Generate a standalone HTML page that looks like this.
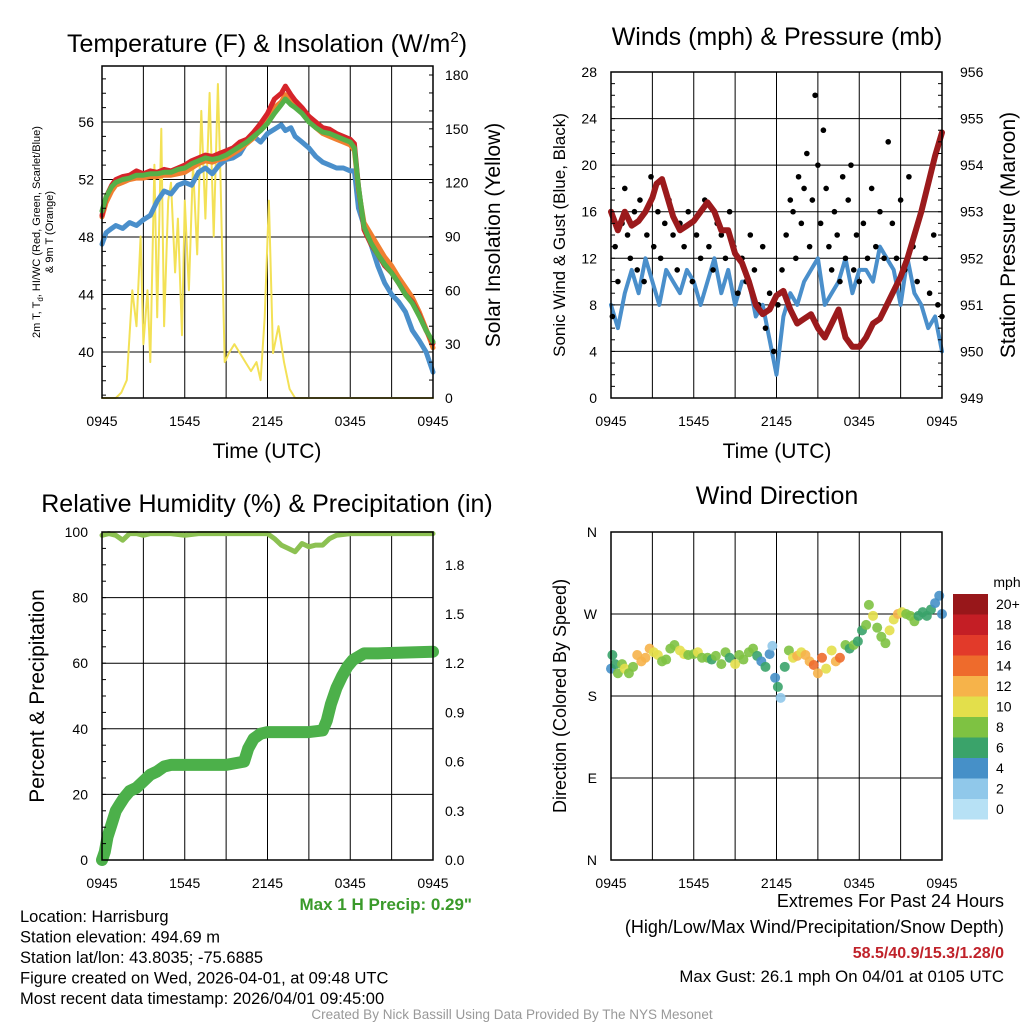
<!DOCTYPE html>
<html><head><meta charset="utf-8"><style>
body{margin:0;background:#fff;width:1024px;height:1024px;overflow:hidden;font-family:"Liberation Sans",sans-serif}
svg text{font-family:"Liberation Sans",sans-serif}
</style></head><body>
<svg id="s" width="1024" height="1024" viewBox="0 0 1024 1024" xmlns="http://www.w3.org/2000/svg"></svg>
<script>
// ---------- DATA ----------
const xTickLabels=["0945","1545","2145","0345","0945"];
const tT=[0,0.3,0.7,1,1.5,2,2.5,3,3.5,4,4.5,5,5.5,6,6.5,7,7.5,8,8.5,9,9.5,10,10.5,11,11.5,12,12.5,13,13.3,13.7,14,14.5,15,15.5,16,16.5,17,17.5,18,18.3,18.6,19,19.5,20,20.5,21,21.5,22,22.5,23,23.5,24];
const tempRed=[49.5,50.8,51.6,52,52.2,52.3,52.6,52.4,52.6,52.5,52.7,52.6,52.8,53,53.3,53.5,53.7,53.6,53.8,54,54.2,54.6,54.8,55.3,55.9,56.6,57.6,58.0,58.5,57.9,57.5,57.0,56.4,56.0,55.6,55.5,55.2,55.0,54.8,54.5,51.5,48.5,47.5,46.8,46,45.5,44.8,44,43.5,42.6,41.5,40.6];
const tempGreen=[49.8,50.8,51.5,51.8,52.0,52.1,52.3,52.3,52.4,52.4,52.5,52.5,52.7,52.8,53.1,53.3,53.5,53.4,53.5,53.7,54.0,54.3,54.6,55.0,55.4,55.9,56.6,57.2,57.6,57.2,57.0,56.6,56.0,55.6,55.3,55.2,55.0,54.8,54.6,54.2,51.5,48.7,47.6,46.8,46.1,45.5,44.8,44.0,43.4,42.5,41.5,40.7];
const tempOrange=[49.4,50.4,51.2,51.6,51.8,52.0,52.1,52.1,52.2,52.2,52.3,52.3,52.4,52.5,52.8,53.1,53.3,53.2,53.4,53.5,53.8,54.1,54.5,54.9,55.5,56.1,57.0,57.4,57.9,57.6,57.2,56.8,56.2,55.6,55.2,55.0,54.8,54.6,54.4,54.0,51.3,49.0,48.2,47.4,46.6,46.0,45.2,44.5,43.8,42.8,41.6,40.3];
const tempBlue=[47.5,48.3,48.6,48.8,48.6,49.0,48.8,49.2,49.5,50.5,51.2,51.0,51.6,51.8,51.6,52.5,52.8,52.4,53.0,53.4,53.5,53.8,54.6,55.0,54.6,55.2,55.5,55.8,55.4,55.6,55.0,54.6,54.2,53.6,53.2,53.0,52.8,52.8,52.6,52.6,50,48.8,47.5,46,44.8,44.0,43.5,42.8,41.5,40.8,40.0,38.6];
const tS=[0,0.5,1,1.4,1.8,2.2,2.5,2.8,3,3.3,3.5,3.8,4.0,4.3,4.5,4.8,5.0,5.3,5.5,5.8,6.0,6.3,6.6,6.9,7.2,7.5,7.8,8.1,8.4,8.6,8.9,9.2,9.6,10,10.4,10.8,11.2,11.5,11.8,12.1,12.4,12.8,13.2,13.6,14,16,24];
const solar=[0,0,0,3,10,60,40,90,30,60,20,130,45,150,40,110,120,70,100,35,110,60,130,80,160,100,170,90,175,120,20,25,30,25,20,15,20,10,45,110,25,40,20,5,0,0,0];
const tW=[0,0.5,1,1.5,2,2.5,3,3.5,4,4.5,5,5.5,6,6.5,7,7.5,8,8.5,9,9.5,10,10.5,11,11.5,12,12.5,13,13.5,14,14.5,15,15.5,16,16.5,17,17.5,18,18.5,19,19.5,20,20.5,21,21.5,22,22.5,23,23.5,24];
const sonic=[8,6,9,11,9,12,10,8,11,10,9,11,10,8,10,12,9,11,8,10,10,7,8,5,2,7,9,8,10,11,12,8,9,10,12,9,11,11,10,13,12,11,8,12,9,8,6,7,4];
const tP=[0,0.5,1,1.5,2,2.5,3,3.3,3.7,4,4.5,5,5.5,6,6.5,7,7.5,8,8.5,9,9.5,10,10.5,11,11.5,12,12.5,13,13.5,14,14.5,15,15.5,16,16.5,17,17.5,18,18.5,19,19.5,20,20.5,21,21.5,22,22.5,23,23.5,24];
const pressure=[953.0,952.6,953.0,952.7,952.8,953.0,953.3,953.6,953.7,953.4,952.9,952.6,952.7,952.8,953.0,953.2,953.0,952.6,952.6,952.1,951.9,951.5,951.0,950.8,950.9,951.2,951.3,950.9,950.6,950.7,950.8,950.5,950.3,950.6,950.9,950.3,950.1,950.1,950.3,950.6,950.7,951.0,951.3,951.6,952.0,952.5,953.0,953.6,954.2,954.7];
const tG=[0.1,0.3,0.5,0.8,1.0,1.2,1.4,1.7,1.9,2.1,2.4,2.6,2.9,3.1,3.4,3.6,3.9,4.2,4.5,4.8,5.0,5.3,5.6,5.9,6.2,6.5,6.8,7.1,7.4,7.7,8.0,8.3,8.6,8.9,9.2,9.5,9.8,10.1,10.4,10.7,11.0,11.2,11.5,11.8,12.1,12.4,12.7,13.0,13.2,13.4,13.6,13.8,14.0,14.2,14.4,14.6,14.8,15.0,15.2,15.4,15.6,15.8,16.0,16.2,16.4,16.6,16.8,17.0,17.2,17.4,17.6,17.8,18.0,18.3,18.6,18.9,19.2,19.5,19.8,20.1,20.4,20.7,21.0,21.3,21.6,21.9,22.2,22.5,22.8,23.1,23.4,23.7,24];
const gust=[7,13,10,15,18,14,12,16,11,17,10,14,19,13,16,12,15,17,14,11,15,13,16,10,14,12,17,13,11,15,14,12,16,13,9,12,10,14,11,8,13,6,9,4,8,11,14,17,16,12,19,15,18,21,13,17,26,20,15,23,18,13,11,16,14,10,19,12,17,20,11,14,10,15,12,18,13,16,12,22,15,12,17,11,19,13,10,16,12,9,14,8,7];
const tR=[0,0.5,1,1.5,2,2.5,3,3.5,4,5,6,7,8,9,10,11,12,12.5,13,13.5,14,14.5,15,15.5,16,16.5,17,18,19,20,21,22,23,24];
const rh=[99,99.5,99,97.5,99.5,99.5,99,99.5,99.5,99.5,99,99.5,99.5,99.5,99.5,99.5,99.5,98,96,95,94,96.5,95.5,96,96,98,99,99.5,99.5,99.5,99.5,99.5,99.5,99.5];
const tPr=[0,0.2,0.4,0.7,1,1.3,1.6,2,2.5,3,3.5,4,4.5,5,6,9,10.3,10.6,11,11.5,12,13,15,16,16.3,16.6,17,17.4,17.8,18.2,19,20,24];
const precip=[0,0.05,0.14,0.22,0.30,0.34,0.38,0.42,0.44,0.48,0.52,0.54,0.57,0.58,0.58,0.58,0.60,0.68,0.74,0.77,0.78,0.78,0.78,0.79,0.85,0.95,1.05,1.12,1.18,1.22,1.26,1.26,1.27];
const tD=[0,0.1,0.3,0.5,0.8,1.0,1.3,1.6,1.9,2.2,2.5,2.8,3.1,3.4,3.7,4.0,4.3,4.6,5.0,5.3,5.6,6.0,6.3,6.6,7.0,7.3,7.6,8.0,8.3,8.6,9.0,9.3,9.6,10.0,10.3,10.6,10.9,11.2,11.5,11.7,11.9,12.1,12.3,12.6,12.9,13.2,13.5,13.8,14.1,14.4,14.7,15.0,15.3,15.6,16.0,16.3,16.6,17.0,17.3,17.6,17.9,18.2,18.5,18.7,19.0,19.3,19.6,19.9,20.2,20.5,20.8,21.1,21.4,21.7,22.0,22.3,22.6,22.9,23.2,23.5,23.8,24];
const dirs=[210,225,215,205,215,210,205,212,225,218,222,232,228,225,218,220,232,236,230,226,225,226,228,222,222,220,224,215,228,222,215,225,220,228,232,224,218,212,226,235,200,190,178,212,230,222,224,228,225,218,214,205,222,210,230,218,222,236,232,236,240,252,258,280,268,255,245,238,252,264,270,272,270,268,262,268,272,268,275,282,290,270];
const spd=[4,6,6,8,8,10,9,8,12,12,13,12,10,11,8,9,8,8,10,10,8,9,11,8,9,7,8,8,9,6,10,9,8,9,8,6,5,7,4,3,5,7,3,6,9,10,12,11,12,13,14,12,14,10,11,13,14,8,7,8,7,7,8,9,10,8,8,8,10,10,12,11,9,8,8,7,6,7,7,4,4,4];
const binColors=["#b7e1f5","#90c8ea","#4690c8","#3aa36a","#7ec242","#e3df4b","#f6b34a","#ee6b2c","#e23a2a","#c41e25","#98171a"];
const binLabels=["0","2","4","6","8","10","12","14","16","18","20+"];

// ---------- DRAW ----------
const S=document.getElementById('s');const NS="http://www.w3.org/2000/svg";
function el(tag,attrs,parent){const e=document.createElementNS(NS,tag);for(const k in attrs)e.setAttribute(k,attrs[k]);(parent||S).appendChild(e);return e;}
function txt(x,y,s,size,anchor,extra){const e=el('text',Object.assign({x:x,y:y,'font-size':size,'text-anchor':anchor||'middle',fill:'#000'},extra||{}));e.textContent=s;return e;}
function lin(d0,d1,r0,r1){return v=>r0+(v-d0)/(d1-d0)*(r1-r0);}
function poly(xs,ys,fx,fy,color,w,name,g){const p=xs.map((t,i)=>fx(t).toFixed(1)+','+fy(ys[i]).toFixed(1)).join(' ');const e=el('polyline',{points:p,fill:'none',stroke:color,'stroke-width':w,'stroke-linejoin':'round','stroke-linecap':'round'},g);return e;}
function frame(x0,y0,x1,y1,ylines,fy,name,labY){
  const g=el('g',{});
  const fx=lin(0,24,x0,x1);
  for(let h=3;h<24;h+=3)el('line',{x1:fx(h),x2:fx(h),y1:y0,y2:y1,stroke:'#000','stroke-width':1},g);
  ylines.forEach(v=>el('line',{x1:x0,x2:x1,y1:fy(v),y2:fy(v),stroke:'#000','stroke-width':1},g));
  xTickLabels.forEach((l,i)=>{const t=txt(fx(i*6),labY,l,14,'middle',{});});
  return {g,fx};
}
function box(x0,y0,x1,y1){el('rect',{x:x0,y:y0,width:x1-x0,height:y1-y0,fill:'none',stroke:'#000','stroke-width':1.5});}

// Panel 1
(function(){
 const x0=102,y0=66,x1=433,y1=398;
 const fy=lin(40,56,352,122), fs=lin(0,180,398,75);
 const {g,fx}=frame(x0,y0,x1,y1,[40,44,48,52,56],fy,'temperature-panel',426);
 poly(tS,solar,fx,fs,'#f3e156',2,'solar-line',g);
 poly(tT,tempBlue,fx,fy,'#4a8fcb',5,'dewpoint-line',g);
 poly(tT,tempOrange,fx,fy,'#f07f30',5,'temp-9m-line',g);
 poly(tT,tempRed,fx,fy,'#d6242a',5,'temp-2m-line',g);
 poly(tT,tempGreen,fx,fy,'#55b048',5,'heat-index-line',g);
 box(x0,y0,x1,y1);
 [40,44,48,52,56].forEach(v=>txt(x0-8,fy(v)+5,String(v),14,'end'));
 [0,30,60,90,120,150,180].forEach(v=>txt(x1+12,fs(v)+5,String(v),14,'start'));
 for(let v=37;v<=59;v++)el('line',{x1:x0,x2:x0+4,y1:fy(v),y2:fy(v),stroke:'#000'});
 for(let v=0;v<=180;v+=10)el('line',{x1:x1-4,x2:x1,y1:fs(v),y2:fs(v),stroke:'#000'});
 const t=txt(267,52,'',25,'middle');t.innerHTML='Temperature (F) &amp; Insolation (W/m<tspan dy="-10" font-size="15">2</tspan><tspan dy="10">)</tspan>';
 txt(267,458,'Time (UTC)',21);
 const yl=el('text',{x:0,y:0,'font-size':11,'text-anchor':'middle',transform:'translate(40,232) rotate(-90)'});yl.innerHTML='2m T, T<tspan dy="3" font-size="8">d</tspan><tspan dy="-3">, HI/WC (Red, Green, Scarlet/Blue)</tspan>';
 txt(0,0,'& 9m T (Orange)',11,'middle',{transform:'translate(53,232) rotate(-90)'});
 txt(0,0,'Solar Insolation (Yellow)',21,'middle',{transform:'translate(500,235) rotate(-90)'});
})();

// Panel 2
(function(){
 const x0=611,y0=72,x1=942,y1=398;
 const fy=lin(0,28,398,72), fp=lin(949,956,398,72);
 const {g,fx}=frame(x0,y0,x1,y1,[4,8,12,16,20,24],fy,'wind-panel',426);
 poly(tW,sonic,fx,fy,'#4a8fcb',4,'sonic-wind-line',g);
 tG.forEach((t,i)=>{const c=el('circle',{cx:fx(t),cy:fy(gust[i]),r:2.8,fill:'#000'},g);});
 poly(tP,pressure,fx,fp,'#9b1a1c',6,'pressure-line',g);
 box(x0,y0,x1,y1);
 [0,4,8,12,16,20,24,28].forEach(v=>txt(x0-14,fy(v)+5,String(v),14,'end'));
 [949,950,951,952,953,954,955,956].forEach(v=>txt(x1+18,fp(v)+5,String(v),14,'start'));
 for(let v=0;v<=28;v++)el('line',{x1:x0,x2:x0+4,y1:fy(v),y2:fy(v),stroke:'#000'});
 for(let v=949;v<=956;v+=0.25)el('line',{x1:x1-4,x2:x1,y1:fp(v),y2:fp(v),stroke:'#000'});
 txt(777,45,'Winds (mph) & Pressure (mb)',25);
 txt(777,458,'Time (UTC)',21);
 txt(0,0,'Sonic Wind & Gust (Blue, Black)',17,'middle',{transform:'translate(565,235) rotate(-90)'});
 txt(0,0,'Station Pressure (Maroon)',21,'middle',{transform:'translate(1015,235) rotate(-90)'});
})();

// Panel 3
(function(){
 const x0=102,y0=532,x1=433,y1=860;
 const fy=lin(0,100,860,532), fr=lin(0,2,860,532);
 const {g,fx}=frame(x0,y0,x1,y1,[20,40,60,80],fy,'humidity-panel',888);
 poly(tR,rh,fx,fy,'#8cc152',5,'humidity-line',g);
 poly(tPr,precip,fx,fr,'#4cb04a',12,'precip-line',g);
 box(x0,y0,x1,y1);
 [0,20,40,60,80,100].forEach(v=>txt(x0-14,fy(v)+5,String(v),14,'end'));
 ['0.0','0.3','0.6','0.9','1.2','1.5','1.8'].forEach(v=>txt(x1+12,fr(+v)+5,v,14,'start'));
 for(let v=0;v<=100;v+=5)el('line',{x1:x0,x2:x0+4,y1:fy(v),y2:fy(v),stroke:'#000'});
 txt(267,512,'Relative Humidity (%) & Precipitation (in)',25);
 txt(0,0,'Percent & Precipitation',21,'middle',{transform:'translate(44,696) rotate(-90)'});
 txt(472,910,'Max 1 H Precip: 0.29"',17,'end',{fill:'#3a9a2a','font-weight':'bold'});
})();

// Panel 4
(function(){
 const x0=611,y0=532,x1=942,y1=860;
 const fy=lin(0,360,860,532);
 const {g,fx}=frame(x0,y0,x1,y1,[90,180,270],fy,'wind-direction-panel',888);
 tD.forEach((t,i)=>{const s=spd[i]===undefined?8:spd[i];const bi=Math.min(10,Math.max(0,Math.floor(s/2)));const c=el('circle',{cx:fx(t),cy:fy(dirs[i]),r:5,fill:binColors[bi],opacity:0.9},g);});
 box(x0,y0,x1,y1);
 [['N',0],['E',90],['S',180],['W',270],['N',360]].forEach(a=>txt(x0-14,fy(a[1])+5,a[0],14,'end'));
 txt(777,504,'Wind Direction',25);
 txt(0,0,'Direction (Colored By Speed)',18,'middle',{transform:'translate(566,696) rotate(-90)'});
 txt(1007,587,'mph',14);
 for(let i=0;i<11;i++){const y=594+(10-i)*20.5;const r=el('rect',{x:953,y:y,width:35,height:20.5,fill:binColors[i]});txt(996,y+15,binLabels[i],14,'start');}
})();

// Footer
const info=["Location: Harrisburg","Station elevation: 494.69 m","Station lat/lon: 43.8035; -75.6885","Figure created on Wed, 2026-04-01, at 09:48 UTC","Most recent data timestamp: 2026/04/01 09:45:00"];
info.forEach((s,i)=>txt(20,922+i*20.5,s,16.5,'start'));
txt(1004,907,'Extremes For Past 24 Hours',18,'end');
txt(1004,933,'(High/Low/Max Wind/Precipitation/Snow Depth)',18,'end');
txt(1004,958,'58.5/40.9/15.3/1.28/0',16,'end',{fill:'#c0222a','font-weight':'bold'});
txt(1004,982,'Max Gust: 26.1 mph On 04/01 at 0105 UTC',16.8,'end');
txt(512,1019,'Created By Nick Bassill Using Data Provided By The NYS Mesonet',13.5,'middle',{fill:'#999'});
</script>
</body></html>
